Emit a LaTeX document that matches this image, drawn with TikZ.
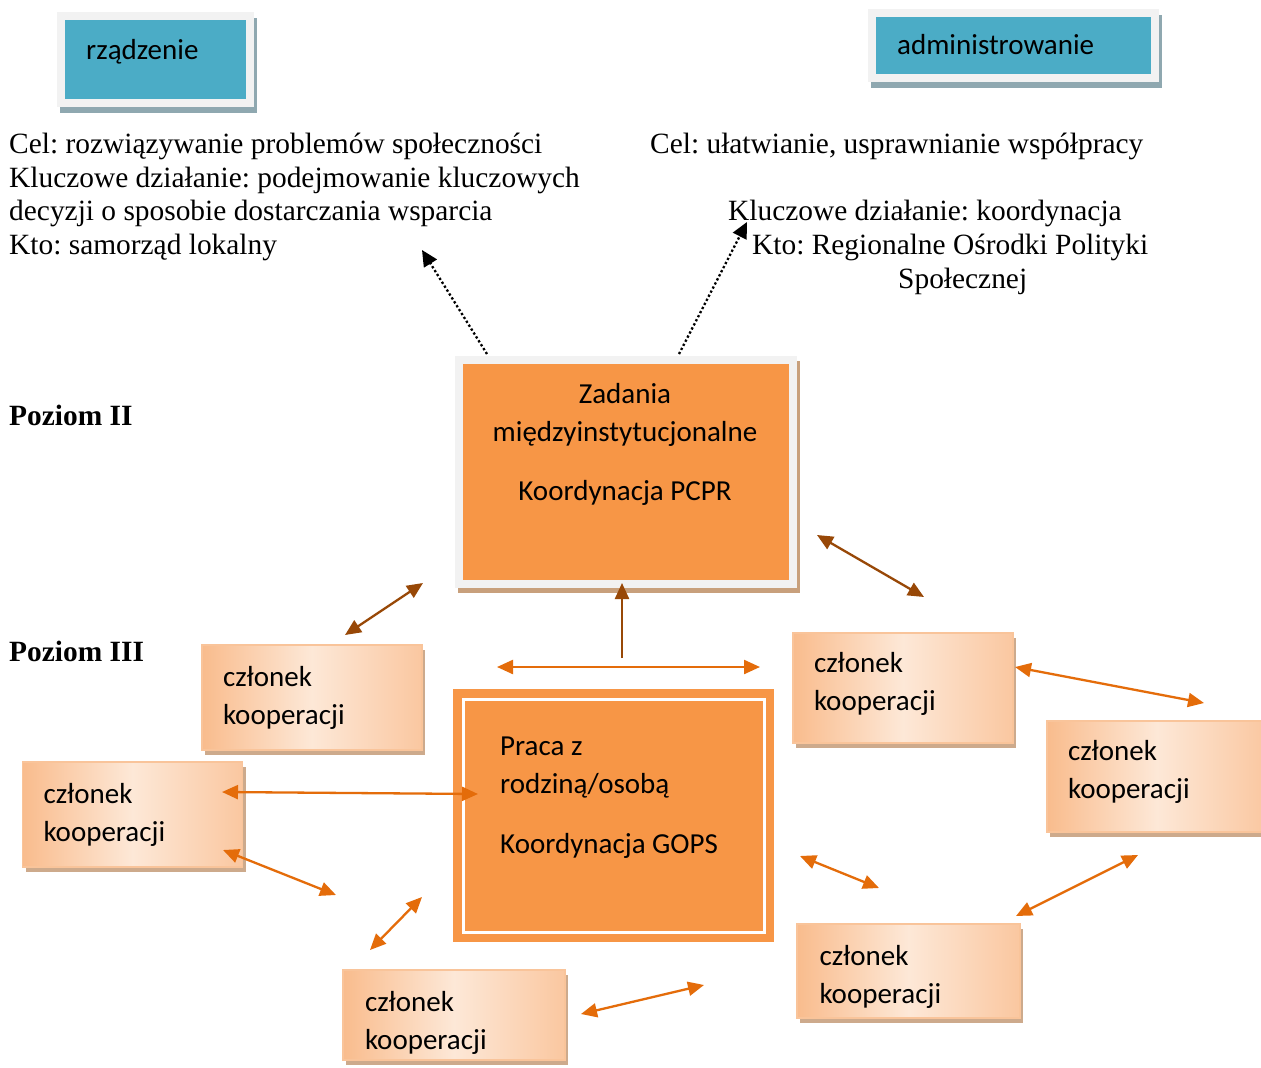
\documentclass[tikz,border=0pt]{standalone}
\usepackage{fontspec}
\setmainfont{Liberation Serif}
\newfontfamily\calfont{Carlito}
\usetikzlibrary{arrows.meta,shadows}
\frenchspacing
\definecolor{boxblue}{HTML}{4BACC6}
\definecolor{framegray}{HTML}{F2F2F2}
\definecolor{shadowblue}{HTML}{8FA8B0}
\definecolor{boxorange}{HTML}{F79646}
\definecolor{shadowtan}{HTML}{C8A07C}
\definecolor{memberborder}{HTML}{F9C49A}
\definecolor{memberleft}{HTML}{F9BC8D}
\definecolor{membermid}{HTML}{FDE8D7}
\definecolor{memberright}{HTML}{FAC7A0}
\definecolor{membershadow}{HTML}{CDAA8C}
\definecolor{arrbrown}{HTML}{984807}
\definecolor{arrorange}{HTML}{E46C0A}
\begin{document}
\frenchspacing
\begin{tikzpicture}[x=1pt,y=-1pt,
  txt/.style={anchor=base west, inner sep=0pt, font=\fontsize{29.4}{34}\selectfont},
  btxt/.style={anchor=base west, inner sep=0pt, font=\fontsize{29.4}{34}\selectfont\bfseries},
  ctxt/.style={anchor=base west, inner sep=0pt, font=\calfont\fontsize{29}{38}\selectfont},
  cctxt/.style={anchor=base, inner sep=0pt, font=\calfont\fontsize{29}{38}\selectfont},
  bluebox/.style={rectangle, inner sep=0pt, fill=framegray,
    drop shadow={shadow xshift=3pt, shadow yshift=-6pt, fill=shadowblue, opacity=1},
    path picture={\fill[boxblue] ([shift={(8pt,-8pt)}]path picture bounding box.north west) rectangle ([shift={(-8pt,8pt)}]path picture bounding box.south east);}},
  pcprbox/.style={rectangle, inner sep=0pt, fill=framegray,
    drop shadow={shadow xshift=3pt, shadow yshift=-5pt, fill=shadowtan, opacity=1},
    path picture={\fill[boxorange] ([shift={(8pt,-8pt)}]path picture bounding box.north west) rectangle ([shift={(-8pt,8pt)}]path picture bounding box.south east);}},
  gopsbox/.style={rectangle, inner sep=0pt, fill=boxorange,
    path picture={\draw[white, line width=3pt] ([shift={(10pt,-10pt)}]path picture bounding box.north west) rectangle ([shift={(-10pt,10pt)}]path picture bounding box.south east);}},
  member/.style={rectangle, draw=memberborder, line width=1.2pt,
    left color=memberleft, right color=memberright, middle color=membermid,
    drop shadow={shadow xshift=3pt, shadow yshift=-5pt, fill=membershadow, opacity=1},
    inner xsep=21pt, inner ysep=0pt, text width=178pt, align=left,
    font=\calfont\fontsize{29}{38}\selectfont},
  barr/.style={draw=arrbrown, line width=2.3pt, >={Triangle[length=16pt,width=14pt]}},
  oarr/.style={draw=arrorange, line width=2.3pt, >={Triangle[length=16pt,width=14pt]}},
  darr/.style={draw=black, line width=2.3pt, dash pattern=on 2.3pt off 2.3pt, -{Triangle[length=16pt,width=15pt]}}
]
\useasboundingbox (0,0) rectangle (1261,1068);
\fill[white] (0,0) rectangle (1261,1068);

% top boxes
\node[bluebox, minimum width=197pt, minimum height=95pt] (rz) at (155.5,59.5) {};
\node[ctxt] (rzT) at (86,59) {rządzenie};
\node[bluebox, minimum width=291pt, minimum height=73pt] (adm) at (1013.5,45.5) {};
\node[ctxt] (admT) at (897,54) {administrowanie};

% left text block
\node[txt] (l1) at (9,153) {Cel: rozwiązywanie problemów społeczności};
\node[txt] (l2) at (9,187) {Kluczowe działanie: podejmowanie kluczowych};
\node[txt] (l3) at (9,220) {decyzji o sposobie dostarczania wsparcia};
\node[txt] (l4) at (9,254) {Kto: samorząd lokalny};

% right text block
\node[txt] (r1) at (650,153) {Cel: ułatwianie, usprawnianie współpracy};
\node[txt] (r2) at (728,220) {Kluczowe działanie: koordynacja};
\node[txt] (r3) at (752,254) {Kto: Regionalne Ośrodki Polityki};
\node[txt] (r4) at (898,288) {Społecznej};

% levels
\node[btxt] (p2) at (9,425) {Poziom II};
\node[btxt] (p3) at (9,661) {Poziom III};

% PCPR box
\node[pcprbox, minimum width=342pt, minimum height=232pt] (pcpr) at (626,472) {};
\node[cctxt] (pcprT1) at (625,403) {Zadania};
\node[cctxt] (pcprT2) at (625,441) {międzyinstytucjonalne};
\node[cctxt] (pcprT3) at (625,500) {Koordynacja PCPR};

% GOPS box
\node[gopsbox, minimum width=321pt, minimum height=253pt] (gops) at (613.5,815.5) {};
\node[ctxt] (gopsT1) at (500,755) {Praca z};
\node[ctxt] (gopsT2) at (500,793) {rodziną/osobą};
\node[ctxt] (gopsT3) at (500,853) {Koordynacja GOPS};

% member boxes
\node[member, minimum width=220pt, minimum height=105pt] (m1) at (312,697.5) {członek\\kooperacji};
\node[member, minimum width=220pt, minimum height=110pt] (m2) at (903,688) {członek\\kooperacji\rule[-13pt]{0pt}{1pt}};
\node[member, minimum width=219pt, minimum height=105pt] (m3) at (132.5,814.5) {członek\\kooperacji};
\node[member, minimum width=220pt, minimum height=111pt] (m4) at (1157,776.5) {członek\\kooperacji\rule[-15pt]{0pt}{1pt}};
\node[member, minimum width=222pt, minimum height=90pt] (m5) at (454,1015) {\rule{0pt}{35pt}członek\\kooperacji};
\node[member, minimum width=223pt, minimum height=94pt] (m6) at (908.5,971) {\rule{0pt}{31pt}członek\\kooperacji};

% arrow end points
\coordinate (d1s) at (487,354); \coordinate (d1e) at (422,250);
\coordinate (d2s) at (679,354); \coordinate (d2e) at (747,222);
\coordinate (b1s) at (345,635); \coordinate (b1e) at (423,583);
\coordinate (b2s) at (622,658); \coordinate (b2e) at (622,583);
\coordinate (b3s) at (817,535); \coordinate (b3e) at (924,597);
\coordinate (o1s) at (497,667); \coordinate (o1e) at (760,667);
\coordinate (o2s) at (1015,667); \coordinate (o2e) at (1204,703);
\coordinate (o3s) at (222,792); \coordinate (o3e) at (478,794);
\coordinate (o4s) at (223,850); \coordinate (o4e) at (336,895);
\coordinate (o5s) at (370,950); \coordinate (o5e) at (422,897);
\coordinate (o6s) at (581,1014); \coordinate (o6e) at (704,985);
\coordinate (o7s) at (800,856); \coordinate (o7e) at (879,888);
\coordinate (o8s) at (1016,916); \coordinate (o8e) at (1138,855);

% arrows
\draw[darr] (d1s) -- (d1e);
\draw[darr] (d2s) -- (d2e);
\draw[barr,<->] (b1s) -- (b1e);
\draw[barr,->] (b2s) -- (b2e);
\draw[barr,<->] (b3s) -- (b3e);
\draw[oarr,<->] (o1s) -- (o1e);
\draw[oarr,<->] (o2s) -- (o2e);
\draw[oarr,<->] (o3s) -- (o3e);
\draw[oarr,<->] (o4s) -- (o4e);
\draw[oarr,<->] (o5s) -- (o5e);
\draw[oarr,<->] (o6s) -- (o6e);
\draw[oarr,<->] (o7s) -- (o7e);
\draw[oarr,<->] (o8s) -- (o8e);
\end{tikzpicture}
\end{document}
